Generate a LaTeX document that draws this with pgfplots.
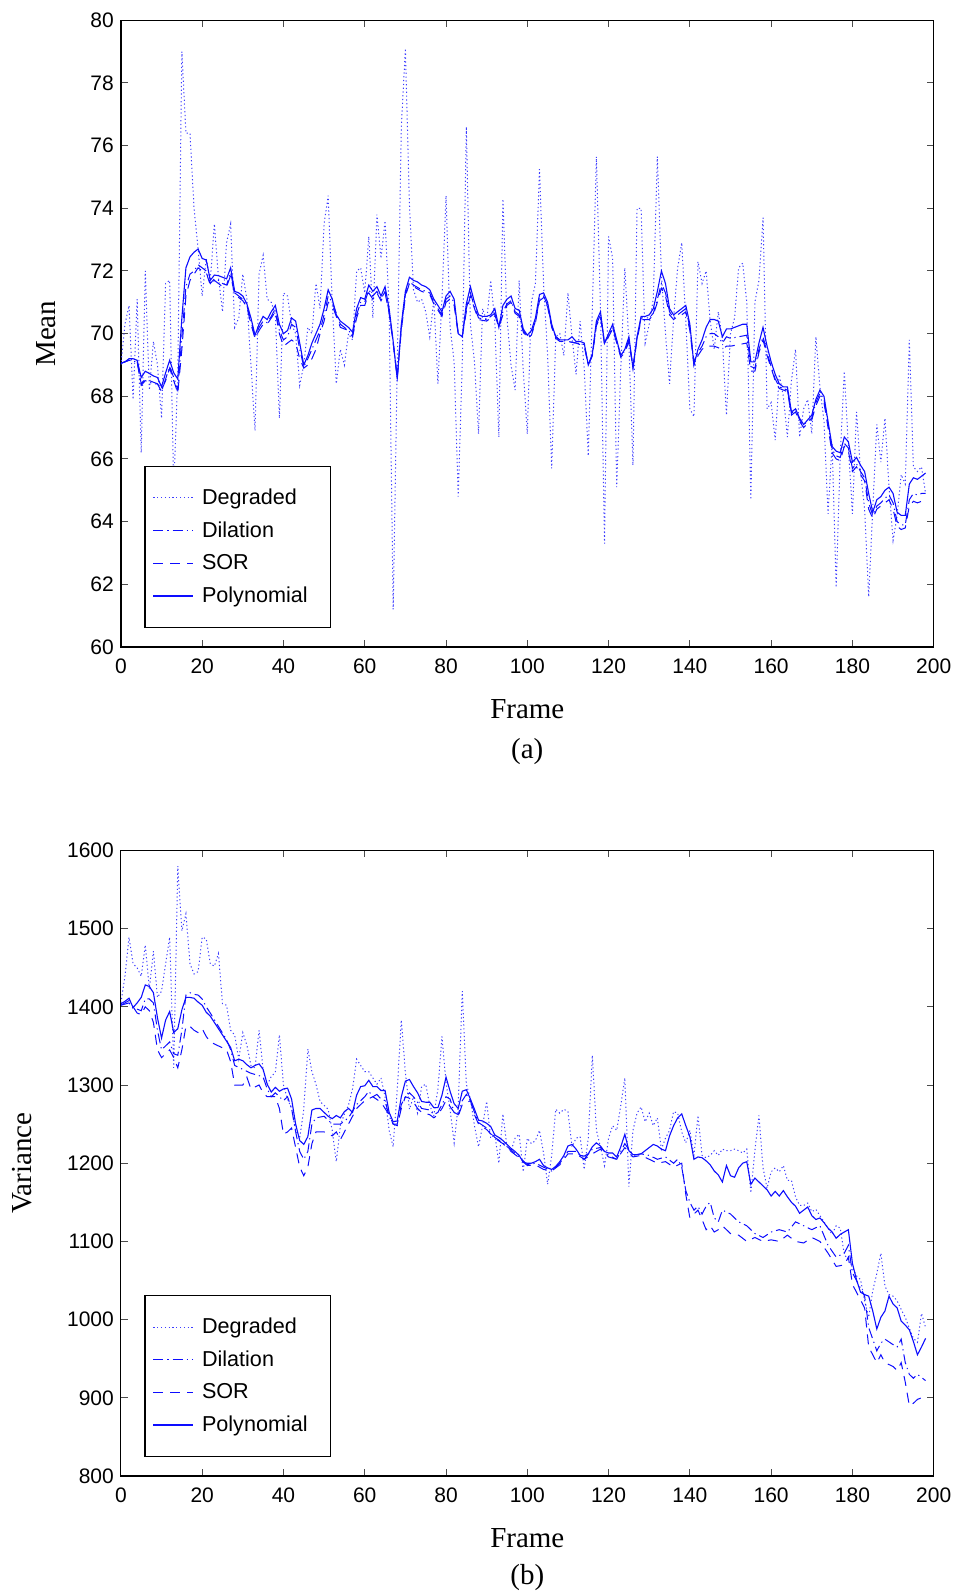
\documentclass[border=0pt]{standalone}
\usepackage{fontspec}
\setmainfont{Liberation Serif}
\newfontfamily\arial{Liberation Sans}
\usepackage{pgfplots}
\pgfplotsset{compat=1.18}
\definecolor{mblue}{rgb}{0.05,0.05,1}
\pgfplotsset{
  myaxis/.style={
    scale only axis, width=406.4pt,
    xmin=0, xmax=200, xtick={0,20,...,200},
    tick align=inside, major tick length=3.5pt,
    tick label style={font=\arial\fontsize{10.5}{12}\selectfont},
    xticklabel style={yshift=-2.5pt},
    /pgf/number format/assume math mode=true,
    /pgf/number format/1000 sep={},
    label style={font=\fontsize{14.5}{16}\selectfont},
    xlabel={Frame},
    xlabel style={at={(axis description cs:0.5,-0.099)}, anchor=center},
    axis line style={line width=0.6pt},
    every tick/.style={black!70, line width=0.5pt},
    legend style={at={(axis description cs:0.0288,0.0305)}, anchor=south west, draw=black, line width=0.6pt,
      font=\arial\fontsize{10.8}{12}\selectfont, inner xsep=4pt, inner ysep=9pt, row sep=3.1pt, cells={anchor=west}},
    legend image code/.code={\draw[##1] (0pt,0pt) -- (20pt,0pt); \path (22pt,0pt);},
    legend cell align=left,
  },
  deg/.style={mblue!80, line width=0.5pt, dash pattern=on 0.6pt off 1.3pt},
  dil/.style={mblue, line width=0.5pt, dash pattern=on 5pt off 2pt on 0.6pt off 2pt},
  sor/.style={mblue, line width=0.5pt, dash pattern=on 5pt off 3.5pt},
  pol/.style={mblue, line width=0.55pt},
}
\begin{document}
\begin{tikzpicture}
\path[use as bounding box] (-60.45pt,10.15pt) rectangle (416.05pt,-786.35pt);
\begin{axis}[myaxis, name=top, at={(0pt,0pt)}, anchor=north west, height=313.35pt,
  ymin=60, ymax=80, ytick={60,62,...,80}, ylabel={Mean},
  ylabel style={at={(axis description cs:-0.0924,0.5)}, anchor=center}]
\addplot[deg] coordinates {(0,69.0) (1,70.3) (2,70.9) (3,67.9) (4,71.1) (5,66.2) (6,72.0) (7,68.2) (8,69.75) (9,69.0) (10,67.3) (11,71.6) (12,71.7) (13,65.0) (14,68.7) (15,79.0) (16,76.4) (17,76.4) (18,74.0) (19,72.7) (20,71.2) (21,72.4) (22,71.7) (23,73.5) (24,71.8) (25,70.7) (26,72.9) (27,73.5) (28,70.2) (29,70.5) (30,71.9) (31,71.1) (32,69.0) (33,66.9) (34,71.9) (35,72.5) (36,71.1) (37,71.0) (38,70.6) (39,67.3) (40,71.3) (41,71.2) (42,70.3) (43,70.0) (44,68.35) (45,69.0) (46,70.2) (47,70.0) (48,71.6) (49,70.8) (50,73.5) (51,74.4) (52,71.0) (53,68.4) (54,69.5) (55,69.0) (56,70.0) (57,69.8) (58,72.0) (59,72.1) (60,71.3) (61,73.1) (62,70.5) (63,73.8) (64,72.4) (65,73.6) (66,70.8) (67,61.2) (68,69.0) (69,76.6) (70,79.1) (71,74.1) (72,71.4) (73,71.0) (74,71.1) (75,70.7) (76,69.9) (77,71.1) (78,68.4) (79,71.1) (80,74.4) (81,70.2) (82,69.1) (83,64.8) (84,69.1) (85,76.6) (86,70.3) (87,69.1) (88,66.8) (89,70.8) (90,70.4) (91,71.7) (92,70.4) (93,66.7) (94,74.3) (95,70.5) (96,69.0) (97,68.2) (98,71.7) (99,68.8) (100,66.8) (101,71.0) (102,71.6) (103,75.25) (104,71.6) (105,69.3) (106,65.7) (107,69.9) (108,70.0) (109,69.3) (110,71.3) (111,69.9) (112,68.7) (113,70.4) (114,68.9) (115,66.1) (116,70.8) (117,75.65) (118,70.8) (119,63.3) (120,73.1) (121,72.4) (122,65.1) (123,68.9) (124,72.1) (125,69.7) (126,65.8) (127,74.0) (128,74.0) (129,69.7) (130,70.3) (131,71.1) (132,75.65) (133,71.9) (134,70.0) (135,68.4) (136,70.5) (137,72.1) (138,72.9) (139,70.4) (140,67.6) (141,67.35) (142,72.3) (143,71.6) (144,72.0) (145,70.4) (146,69.5) (147,70.7) (148,69.8) (149,67.4) (150,70.0) (151,70.5) (152,72.1) (153,72.25) (154,71.0) (155,64.7) (156,71.0) (157,71.7) (158,73.7) (159,67.6) (160,67.8) (161,66.6) (162,68.7) (163,68.0) (164,66.7) (165,68.5) (166,69.5) (167,66.7) (168,67.6) (169,67.9) (170,66.8) (171,69.9) (172,68.3) (173,67.2) (174,64.25) (175,66.5) (176,61.9) (177,66.1) (178,68.8) (179,66.4) (180,64.25) (181,67.5) (182,65.6) (183,64.4) (184,61.6) (185,64.4) (186,67.1) (187,65.9) (188,67.3) (189,65.1) (190,63.4) (191,64.2) (192,65.5) (193,65.2) (194,69.8) (195,65.75) (196,65.6) (197,65.75) (198,64.9)};
\addlegendentry{Degraded}
\addplot[dil] coordinates {(0,69.05) (2,69.15) (4,69.1) (5,68.35) (6,68.5) (7,68.45) (8,68.4) (9,68.4) (10,68.15) (11,68.55) (12,68.95) (13,68.6) (14,68.2) (15,69.9) (16,71.5) (17,71.9) (18,72.0) (19,72.2) (20,72.1) (21,72.0) (22,71.6) (23,71.75) (24,71.7) (25,71.6) (26,71.55) (27,71.95) (28,71.3) (30,71.1) (31,70.9) (32,70.4) (33,69.9) (34,70.2) (35,70.4) (36,70.35) (37,70.55) (38,70.8) (39,70.1) (40,69.8) (41,69.9) (42,70.3) (43,70.2) (44,69.5) (45,68.95) (46,69.2) (47,69.5) (48,69.8) (49,70.1) (50,70.6) (51,71.2) (52,71.0) (54,70.3) (56,70.1) (57,69.95) (58,70.6) (59,71.0) (60,71.0) (61,71.4) (62,71.2) (63,71.35) (64,71.1) (65,71.35) (66,70.7) (67,69.7) (68,68.6) (69,70.2) (70,71.25) (71,71.65) (72,71.55) (74,71.4) (76,71.3) (77,71.0) (78,70.8) (79,70.6) (80,71.1) (81,71.2) (82,71.0) (83,70.0) (84,69.95) (85,70.8) (86,71.3) (87,70.85) (88,70.5) (90,70.45) (92,70.65) (93,70.25) (94,70.7) (95,70.95) (96,71.05) (97,70.7) (98,70.6) (99,70.1) (100,69.9) (101,70.0) (102,70.4) (103,71.1) (104,71.2) (105,70.9) (106,70.25) (107,69.9) (108,69.8) (110,69.75) (112,69.7) (114,69.65) (115,69.0) (116,69.3) (117,70.3) (118,70.6) (119,69.7) (120,69.95) (121,70.2) (122,69.75) (123,69.3) (124,69.45) (125,69.8) (126,68.95) (127,69.85) (128,70.5) (130,70.5) (131,70.65) (132,71.1) (133,71.6) (134,71.3) (135,70.7) (136,70.5) (137,70.6) (138,70.7) (139,70.8) (140,70.2) (141,69.1) (142,69.4) (143,69.6) (144,69.9) (145,70.0) (146,70.0) (147,69.9) (148,69.7) (149,69.9) (150,69.85) (152,69.9) (154,69.95) (155,68.95) (156,68.9) (157,69.5) (158,69.9) (159,69.4) (160,68.95) (161,68.55) (162,68.3) (164,68.2) (165,67.45) (166,67.6) (167,67.25) (168,67.1) (169,67.2) (170,67.3) (171,67.8) (172,68.1) (173,67.9) (174,67.1) (175,66.3) (176,66.1) (177,66.05) (178,66.5) (179,66.35) (180,65.7) (181,65.85) (182,65.6) (183,65.4) (184,64.6) (185,64.2) (186,64.5) (187,64.6) (188,64.75) (189,64.85) (190,64.6) (191,64.0) (192,63.9) (193,63.9) (194,64.7) (195,64.9) (196,64.85) (197,64.9) (198,64.9)};
\addlegendentry{Dilation}
\addplot[sor] coordinates {(0,69.05) (2,69.15) (4,69.1) (5,68.4) (6,68.55) (7,68.5) (8,68.45) (9,68.4) (10,68.2) (11,68.5) (12,68.9) (13,68.5) (14,68.1) (15,69.5) (16,71.2) (17,71.7) (18,71.9) (19,72.1) (20,72.0) (21,71.95) (22,71.55) (23,71.7) (24,71.6) (25,71.5) (26,71.5) (27,71.85) (28,71.25) (30,71.05) (31,70.85) (32,70.3) (33,69.85) (34,70.1) (35,70.3) (36,70.3) (37,70.5) (38,70.7) (39,70.0) (40,69.6) (41,69.7) (42,69.8) (43,69.7) (44,69.2) (45,68.9) (46,69.0) (47,69.2) (48,69.5) (49,70.0) (50,70.4) (51,71.0) (52,70.9) (54,70.2) (56,70.1) (57,69.9) (58,70.5) (59,70.9) (60,70.9) (61,71.3) (62,71.1) (63,71.3) (64,71.05) (65,71.3) (66,70.65) (67,69.7) (68,68.6) (69,70.1) (70,71.2) (71,71.6) (72,71.5) (74,71.35) (76,71.25) (77,70.95) (78,70.75) (79,70.55) (80,71.0) (81,71.1) (82,70.9) (83,70.0) (84,69.9) (85,70.7) (86,71.2) (87,70.8) (88,70.45) (90,70.4) (92,70.6) (93,70.2) (94,70.6) (95,70.9) (96,71.0) (97,70.65) (98,70.55) (99,70.05) (100,69.85) (101,69.95) (102,70.35) (103,71.05) (104,71.15) (105,70.85) (106,70.2) (107,69.85) (108,69.75) (110,69.75) (112,69.7) (114,69.6) (115,69.0) (116,69.3) (117,70.25) (118,70.55) (119,69.65) (120,69.9) (121,70.15) (122,69.7) (123,69.25) (124,69.4) (125,69.75) (126,68.9) (127,69.8) (128,70.45) (130,70.45) (131,70.6) (132,71.0) (133,71.45) (134,71.2) (135,70.6) (136,70.45) (137,70.55) (138,70.6) (139,70.7) (140,70.1) (141,69.0) (142,69.3) (143,69.5) (144,69.6) (145,69.6) (146,69.6) (147,69.55) (148,69.5) (149,69.6) (150,69.6) (152,69.65) (154,69.7) (155,68.8) (156,68.8) (157,69.4) (158,69.8) (159,69.3) (160,68.9) (161,68.5) (162,68.25) (164,68.15) (165,67.4) (166,67.5) (167,67.2) (168,67.0) (169,67.15) (170,67.25) (171,67.7) (172,68.0) (173,67.8) (174,67.0) (175,66.2) (176,66.0) (177,65.95) (178,66.4) (179,66.25) (180,65.6) (181,65.75) (182,65.5) (183,65.3) (184,64.4) (185,64.1) (186,64.4) (187,64.5) (188,64.6) (189,64.7) (190,64.4) (191,63.85) (192,63.75) (193,63.8) (194,64.5) (195,64.65) (196,64.6) (197,64.65) (198,64.7)};
\addlegendentry{SOR}
\addplot[pol] coordinates {(0,69.06) (1,69.1) (2,69.2) (3,69.2) (4,69.15) (5,68.6) (6,68.8) (7,68.73) (8,68.65) (9,68.6) (10,68.3) (11,68.75) (12,69.15) (13,68.75) (14,68.55) (15,70.5) (16,72.1) (17,72.45) (18,72.6) (19,72.7) (20,72.4) (21,72.35) (22,71.7) (23,71.87) (24,71.85) (25,71.8) (26,71.75) (27,72.1) (28,71.35) (29,71.3) (30,71.2) (31,70.95) (32,70.5) (33,69.95) (34,70.3) (35,70.55) (36,70.45) (37,70.7) (38,70.9) (39,70.3) (40,70.0) (41,70.1) (42,70.5) (43,70.4) (44,69.7) (45,69.0) (46,69.3) (47,69.7) (48,70.0) (49,70.3) (50,70.8) (51,71.4) (52,71.1) (53,70.6) (54,70.4) (55,70.3) (56,70.2) (57,70.05) (58,70.8) (59,71.15) (60,71.1) (61,71.55) (62,71.35) (63,71.5) (64,71.2) (65,71.5) (66,70.8) (67,69.75) (68,68.55) (69,70.3) (70,71.35) (71,71.8) (72,71.7) (73,71.65) (74,71.55) (75,71.5) (76,71.4) (77,71.1) (78,70.9) (79,70.7) (80,71.2) (81,71.35) (82,71.1) (83,70.0) (84,69.9) (85,70.95) (86,71.5) (87,71.0) (88,70.6) (89,70.55) (90,70.55) (91,70.6) (92,70.8) (93,70.2) (94,70.9) (95,71.1) (96,71.2) (97,70.8) (98,70.75) (99,70.15) (100,69.95) (101,70.1) (102,70.5) (103,71.25) (104,71.3) (105,71.0) (106,70.3) (107,69.9) (108,69.8) (109,69.8) (110,69.8) (111,69.9) (112,69.75) (113,69.75) (114,69.7) (115,69.0) (116,69.35) (117,70.4) (118,70.7) (119,69.7) (120,70.0) (121,70.3) (122,69.8) (123,69.3) (124,69.5) (125,69.9) (126,68.9) (127,69.9) (128,70.55) (129,70.55) (130,70.6) (131,70.8) (132,71.35) (133,72.0) (134,71.6) (135,70.8) (136,70.6) (137,70.7) (138,70.8) (139,70.9) (140,70.3) (141,69.0) (142,69.5) (143,69.8) (144,70.2) (145,70.45) (146,70.45) (147,70.4) (148,69.9) (149,70.15) (150,70.15) (151,70.2) (152,70.25) (153,70.3) (154,70.3) (155,69.1) (156,69.1) (157,69.7) (158,70.2) (159,69.6) (160,69.1) (161,68.7) (162,68.4) (163,68.3) (164,68.3) (165,67.5) (166,67.6) (167,67.3) (168,67.1) (169,67.25) (170,67.4) (171,67.9) (172,68.2) (173,68.0) (174,67.2) (175,66.4) (176,66.25) (177,66.2) (178,66.7) (179,66.55) (180,65.9) (181,66.05) (182,65.8) (183,65.6) (184,64.9) (185,64.3) (186,64.7) (187,64.8) (188,65.0) (189,65.1) (190,64.9) (191,64.3) (192,64.2) (193,64.2) (194,65.2) (195,65.4) (196,65.35) (197,65.45) (198,65.55)};
\addlegendentry{Polynomial\hspace*{5.5pt}}
\end{axis}
\node[font=\fontsize{14.5}{16}\selectfont] at ([yshift=-52.5pt]top.south) {(a)};
\begin{axis}[myaxis, name=bot, at={(0pt,-415.05pt)}, anchor=north west, height=312.8pt,
  ymin=800, ymax=1600, ytick={800,900,...,1600}, ylabel={Variance},
  ylabel style={at={(axis description cs:-0.1212,0.5)}, anchor=center}]
\addplot[deg] coordinates {(0,1405) (1,1439) (2,1489) (3,1455) (4,1450) (5,1439) (6,1479) (7,1423) (8,1471) (9,1412) (10,1420) (11,1455) (12,1489) (13,1322) (14,1580) (15,1497) (16,1519) (17,1455) (18,1442) (19,1445) (20,1489) (21,1487) (22,1455) (23,1452) (24,1468) (25,1404) (26,1402) (27,1370) (28,1364) (29,1333) (30,1367) (31,1351) (32,1325) (33,1322) (34,1370) (35,1319) (36,1300) (37,1311) (38,1316) (39,1364) (40,1300) (41,1282) (42,1270) (43,1242) (44,1232) (45,1269) (46,1346) (47,1317) (48,1301) (49,1279) (50,1274) (51,1269) (52,1242) (53,1202) (54,1248) (55,1263) (56,1274) (57,1295) (58,1333) (59,1325) (60,1317) (61,1317) (62,1309) (63,1301) (64,1309) (65,1285) (66,1242) (67,1221) (68,1295) (69,1383) (70,1316) (71,1269) (72,1285) (73,1264) (74,1298) (75,1301) (76,1274) (77,1261) (78,1295) (79,1362) (80,1303) (81,1269) (82,1226) (83,1274) (84,1420) (85,1301) (86,1282) (87,1248) (88,1221) (89,1248) (90,1279) (91,1232) (92,1237) (93,1200) (94,1263) (95,1221) (96,1216) (97,1232) (98,1237) (99,1189) (100,1232) (101,1225) (102,1229) (103,1242) (104,1213) (105,1173) (106,1210) (107,1269) (108,1264) (109,1269) (110,1266) (111,1221) (112,1232) (113,1234) (114,1192) (115,1232) (116,1338) (117,1242) (118,1221) (119,1197) (120,1232) (121,1248) (122,1242) (123,1274) (124,1309) (125,1170) (126,1242) (127,1264) (128,1272) (129,1253) (130,1264) (131,1248) (132,1258) (133,1218) (134,1232) (135,1242) (136,1266) (137,1264) (138,1240) (139,1226) (140,1242) (141,1210) (142,1261) (143,1210) (144,1207) (145,1210) (146,1216) (147,1210) (148,1218) (149,1216) (150,1216) (151,1218) (152,1216) (153,1213) (154,1218) (155,1162) (156,1216) (157,1261) (158,1194) (159,1168) (160,1189) (161,1194) (162,1189) (163,1197) (164,1178) (165,1178) (166,1157) (167,1146) (168,1146) (169,1149) (170,1138) (171,1141) (172,1133) (173,1125) (174,1117) (175,1109) (176,1120) (177,1117) (178,1083) (179,1077) (180,1067) (181,1056) (182,1051) (183,1024) (184,1003) (185,1037) (186,1059) (187,1085) (188,1043) (189,1032) (190,1030) (191,1024) (192,1013) (193,1003) (194,989) (195,976) (196,971) (197,1008) (198,990)};
\addlegendentry{Degraded}
\addplot[dil] coordinates {(0,1402) (2,1405) (3,1398) (4,1397) (5,1395) (6,1410) (7,1410) (8,1405) (9,1370) (10,1345) (11,1350) (12,1355) (13,1340) (14,1338) (15,1370) (16,1415) (17,1418) (18,1416) (19,1415) (20,1410) (21,1400) (22,1392) (24,1375) (26,1358) (27,1345) (28,1325) (30,1320) (32,1315) (34,1312) (35,1310) (36,1295) (37,1285) (38,1290) (39,1285) (40,1280) (41,1285) (42,1270) (43,1240) (44,1215) (45,1205) (46,1215) (47,1250) (48,1258) (50,1260) (52,1250) (54,1250) (56,1258) (58,1275) (60,1285) (61,1292) (62,1285) (63,1288) (64,1282) (65,1280) (66,1260) (67,1250) (68,1250) (69,1275) (70,1285) (71,1290) (72,1285) (73,1278) (74,1270) (76,1268) (77,1262) (78,1265) (79,1275) (80,1285) (81,1282) (82,1265) (83,1262) (84,1280) (85,1288) (86,1280) (87,1265) (88,1252) (90,1245) (92,1233) (94,1226) (96,1217) (98,1208) (100,1198) (102,1200) (104,1195) (106,1190) (108,1200) (110,1215) (112,1215) (114,1205) (116,1218) (118,1220) (120,1210) (122,1205) (124,1225) (126,1210) (128,1212) (130,1210) (132,1205) (134,1208) (136,1200) (137,1205) (138,1195) (139,1165) (140,1150) (141,1140) (142,1145) (143,1135) (144,1145) (145,1150) (146,1130) (147,1125) (148,1140) (150,1135) (152,1125) (154,1120) (156,1110) (158,1105) (160,1112) (162,1115) (164,1112) (166,1125) (168,1120) (170,1115) (172,1120) (174,1095) (176,1080) (178,1085) (179,1095) (180,1060) (182,1040) (183,1030) (184,990) (185,975) (186,960) (187,970) (188,975) (190,968) (191,965) (192,975) (193,945) (194,930) (195,925) (196,930) (198,922)};
\addlegendentry{Dilation}
\addplot[sor] coordinates {(0,1402) (2,1408) (3,1400) (4,1392) (5,1390) (6,1400) (7,1395) (8,1380) (9,1345) (10,1335) (11,1340) (12,1345) (13,1335) (14,1322) (15,1345) (16,1375) (17,1375) (18,1370) (19,1367) (20,1372) (21,1362) (22,1355) (24,1350) (26,1345) (27,1330) (28,1300) (29,1300) (30,1300) (31,1310) (32,1295) (34,1300) (35,1290) (36,1285) (38,1285) (39,1270) (40,1237) (41,1240) (42,1245) (43,1220) (44,1195) (45,1184) (46,1195) (47,1225) (48,1240) (50,1240) (52,1235) (53,1240) (54,1230) (56,1250) (58,1270) (60,1280) (62,1285) (64,1278) (66,1262) (67,1250) (68,1248) (69,1270) (70,1285) (71,1283) (72,1278) (73,1270) (74,1265) (76,1262) (77,1258) (78,1262) (79,1270) (80,1280) (82,1265) (83,1260) (84,1275) (86,1280) (87,1262) (88,1250) (90,1243) (92,1232) (94,1225) (96,1215) (98,1207) (100,1197) (102,1198) (104,1192) (106,1190) (108,1198) (110,1212) (112,1212) (114,1205) (116,1212) (118,1218) (120,1208) (122,1205) (124,1220) (126,1208) (128,1210) (130,1205) (132,1200) (134,1202) (136,1195) (138,1200) (139,1160) (140,1130) (141,1135) (142,1140) (143,1128) (144,1115) (145,1120) (146,1112) (147,1115) (148,1120) (150,1110) (152,1108) (154,1100) (156,1105) (158,1100) (160,1102) (162,1100) (164,1108) (166,1100) (168,1098) (170,1105) (172,1100) (174,1085) (176,1068) (178,1070) (179,1080) (180,1045) (182,1025) (183,1015) (184,965) (185,955) (186,945) (187,955) (188,945) (190,940) (191,935) (192,945) (193,920) (194,890) (195,893) (196,898) (197,900) (198,902)};
\addlegendentry{SOR}
\addplot[pol] coordinates {(0,1404) (1,1407) (2,1411) (3,1399) (4,1405) (5,1412) (6,1428) (7,1426) (8,1418) (9,1386) (10,1360) (11,1383) (12,1394) (13,1367) (14,1372) (15,1396) (16,1412) (17,1412) (18,1411) (19,1406) (20,1402) (21,1393) (22,1388) (23,1380) (24,1372) (25,1364) (26,1356) (27,1348) (28,1331) (29,1333) (30,1331) (31,1326) (32,1322) (33,1325) (34,1327) (35,1320) (36,1301) (37,1291) (38,1297) (39,1292) (40,1295) (41,1296) (42,1282) (43,1250) (44,1229) (45,1224) (46,1234) (47,1268) (48,1270) (49,1270) (50,1265) (51,1260) (52,1257) (53,1261) (54,1258) (55,1266) (56,1270) (57,1265) (58,1287) (59,1298) (60,1299) (61,1306) (62,1298) (63,1298) (64,1293) (65,1293) (66,1265) (67,1253) (68,1254) (69,1285) (70,1305) (71,1307) (72,1298) (73,1290) (74,1279) (75,1278) (76,1278) (77,1271) (78,1271) (79,1287) (80,1310) (81,1292) (82,1276) (83,1270) (84,1292) (85,1294) (86,1282) (87,1269) (88,1255) (89,1254) (90,1251) (91,1247) (92,1236) (93,1233) (94,1229) (95,1224) (96,1219) (97,1215) (98,1210) (99,1201) (100,1200) (101,1200) (102,1202) (103,1205) (104,1197) (105,1194) (106,1192) (107,1196) (108,1202) (109,1210) (110,1222) (111,1224) (112,1218) (113,1210) (114,1209) (115,1212) (116,1221) (117,1226) (118,1222) (119,1215) (120,1213) (121,1213) (122,1208) (123,1221) (124,1237) (125,1216) (126,1211) (127,1211) (128,1212) (129,1216) (130,1220) (131,1224) (132,1222) (133,1218) (134,1216) (135,1235) (136,1248) (137,1258) (138,1263) (139,1248) (140,1234) (141,1205) (142,1208) (143,1207) (144,1203) (145,1198) (146,1190) (147,1185) (148,1176) (149,1197) (150,1184) (151,1182) (152,1194) (153,1200) (154,1202) (155,1173) (156,1181) (157,1176) (158,1171) (159,1166) (160,1158) (161,1164) (162,1158) (163,1165) (164,1157) (165,1150) (166,1145) (167,1136) (168,1140) (169,1144) (170,1133) (171,1128) (172,1130) (173,1124) (174,1117) (175,1112) (176,1104) (177,1109) (178,1112) (179,1115) (180,1072) (181,1051) (182,1035) (183,1032) (184,1030) (185,1011) (186,988) (187,1003) (188,1011) (189,1030) (190,1020) (191,1015) (192,998) (193,993) (194,987) (195,972) (196,955) (197,965) (198,976)};
\addlegendentry{Polynomial\hspace*{5.5pt}}
\end{axis}
\node[font=\fontsize{14.5}{16}\selectfont] at ([yshift=-51pt]bot.south) {(b)};
\end{tikzpicture}
\end{document}
